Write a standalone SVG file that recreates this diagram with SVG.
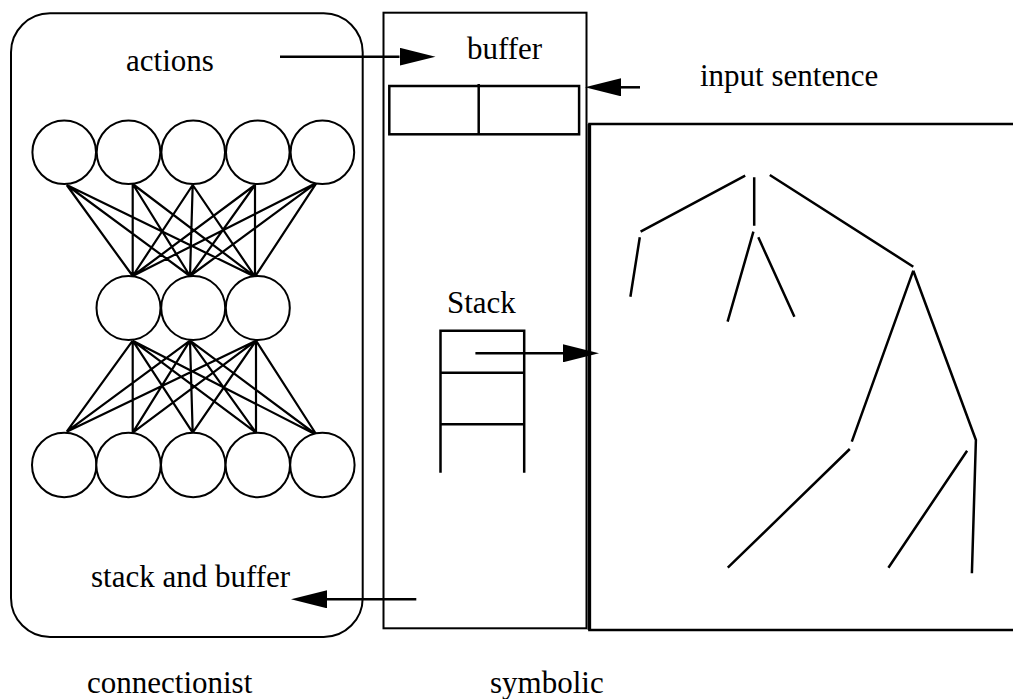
<svg xmlns="http://www.w3.org/2000/svg" width="1013" height="699" viewBox="0 0 1013 699">
  <style>
    .label { font-family: "Liberation Serif", "Times New Roman", serif; font-size: 31px; fill: #000; }
    .frame { fill: none; stroke: #000; stroke-width: 2; }
    .unit { fill: #fff; stroke: #000; stroke-width: 2; }
    .weight { stroke: #000; stroke-width: 2.2; fill: none; }
    .box { fill: none; stroke: #000; stroke-width: 2.5; }
    .branch { stroke: #000; stroke-width: 2.5; fill: none; }
    .flow { stroke: #000; stroke-width: 2.5; fill: none; marker-end: url(#head); }
  </style>
  <defs>
    <marker id="head" viewBox="0 0 36 18" refX="0" refY="9" markerWidth="36" markerHeight="18" markerUnits="userSpaceOnUse" orient="auto">
      <path d="M0,0 L36,9 L0,18 Z" fill="#000"/>
    </marker>
  </defs>
  <rect width="1013" height="699" fill="#fff"/>

  <!-- connectionist module: three-layer network -->
  <g id="connectionist">
    <rect class="frame" x="11" y="13.3" width="351.7" height="623.7" rx="39" ry="39"/>
    <text class="label" x="126" y="71">actions</text>
    <text class="label" x="91" y="587">stack and buffer</text>
    <g id="weights">
      <!-- output layer to hidden layer -->
      <path class="weight" d="M66.7,185 L132.7,276 M66.7,185 L190,276 M66.7,185 L255,276.7
        M132.7,184 L132.7,276 M132.7,184 L190,276 M132.7,184 L255,276.7
        M192.7,185 L132.7,276 M192.7,185 L190,276 M192.7,185 L255,276.7
        M255,185 L132.7,276 M255,185 L190,276 M255,185 L255,276.7
        M316.7,182.7 L132.7,276 M316.7,182.7 L190,276 M316.7,182.7 L255,276.7"/>
      <!-- hidden layer to input layer -->
      <path class="weight" d="M132.7,340.7 L66.7,431.7 M132.7,340.7 L132.7,432.7 M132.7,340.7 L192.7,432.7 M132.7,340.7 L256,432.7 M132.7,340.7 L316.7,435
        M190,340.7 L66.7,431.7 M190,340.7 L132.7,432.7 M190,340.7 L192.7,432.7 M190,340.7 L256,432.7 M190,340.7 L316.7,435
        M256,340.7 L66.7,431.7 M256,340.7 L132.7,432.7 M256,340.7 L192.7,432.7 M256,340.7 L256,432.7 M256,340.7 L316.7,435"/>
    </g>
    <g id="output-layer">
      <circle class="unit" cx="64.2" cy="152.3" r="31.8"/>
      <circle class="unit" cx="128.5" cy="152.3" r="31.8"/>
      <circle class="unit" cx="193.2" cy="152.3" r="31.8"/>
      <circle class="unit" cx="257.8" cy="152.3" r="31.8"/>
      <circle class="unit" cx="322.4" cy="152.3" r="31.8"/>
    </g>
    <g id="hidden-layer">
      <circle class="unit" cx="128.5" cy="308" r="32"/>
      <circle class="unit" cx="193.2" cy="308" r="32"/>
      <circle class="unit" cx="257.8" cy="308" r="32"/>
    </g>
    <g id="input-layer">
      <circle class="unit" cx="64.2" cy="465" r="32.2"/>
      <circle class="unit" cx="128.5" cy="465" r="32.2"/>
      <circle class="unit" cx="193.2" cy="465" r="32.2"/>
      <circle class="unit" cx="257.8" cy="465" r="32.2"/>
      <circle class="unit" cx="322.4" cy="465" r="32.2"/>
    </g>
    <text class="label" x="87" y="693">connectionist</text>
  </g>

  <!-- symbolic module: buffer and stack -->
  <g id="symbolic">
    <rect class="frame" x="383.5" y="12.7" width="203" height="615.6"/>
    <text class="label" x="467" y="59">buffer</text>
    <g id="buffer">
      <rect class="box" x="389.3" y="86" width="189.8" height="48.3"/>
      <line class="box" x1="478.7" y1="84" x2="478.7" y2="134.3"/>
    </g>
    <text class="label" x="447" y="313">Stack</text>
    <g id="stack">
      <path class="box" d="M440.5,472.7 V330.7 H524.2 V472.7 M440.5,372.7 H524.2 M440.5,424.3 H524.2"/>
    </g>
    <text class="label" x="490" y="693">symbolic</text>
  </g>

  <!-- parse tree panel -->
  <g id="parse-tree">
    <path fill="none" stroke="#000" stroke-width="2.5" d="M1015,124 H589.4 V630 H1015"/>
    <line x1="589.4" y1="124" x2="589.4" y2="630" stroke="#000" stroke-width="3.5"/>
    <text class="label" x="700" y="86">input sentence</text>
    <path class="branch" d="M640.6,231.7 L745.2,175.7
      M754.2,177.3 L754.2,225.7
      M769.8,175 L913.3,266.7
      M639.8,237.3 L630.4,296.7
      M753.4,231.7 L727.6,321.7
      M758.3,237.3 L794.4,316.7
      M913.3,270.7 L851.8,441.7
      M913.3,270.7 L975.9,440 L971.9,573.3
      M849.8,449 L727.8,567.7
      M967.1,450.7 L888.4,567.7"/>
  </g>

  <!-- information flow between modules -->
  <g id="connectors">
    <line class="flow" x1="280" y1="56.7" x2="399.5" y2="56.7"/>
    <line class="flow" x1="640" y1="87.3" x2="621" y2="87.3"/>
    <line class="flow" x1="475.4" y1="353.3" x2="563" y2="353.3"/>
    <line class="flow" x1="416.3" y1="599.3" x2="327" y2="599.3"/>
  </g>
</svg>
